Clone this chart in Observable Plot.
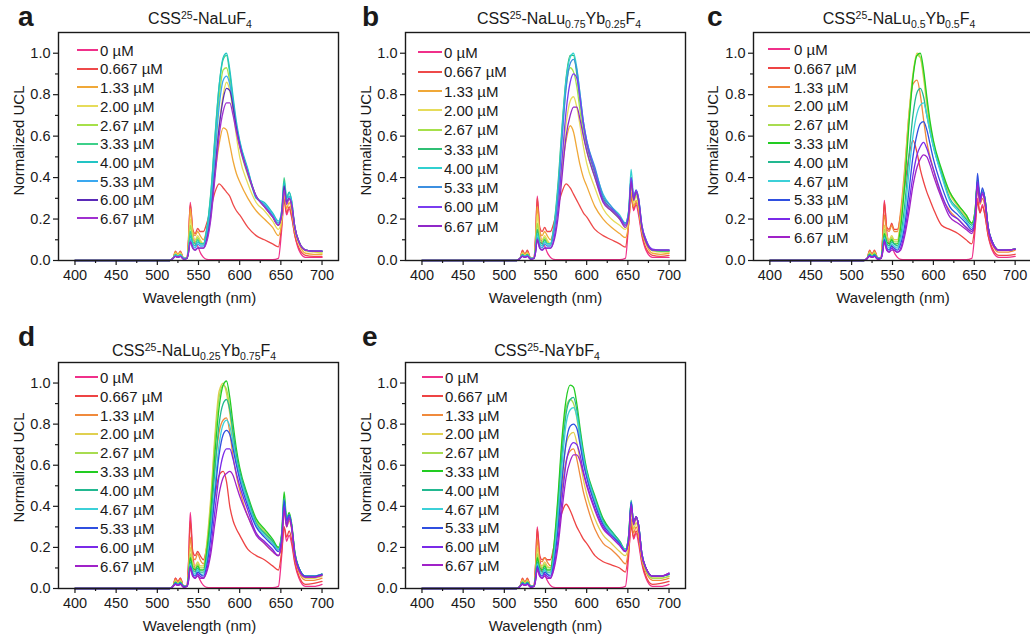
<!DOCTYPE html>
<html><head><meta charset="utf-8">
<script src="https://cdn.jsdelivr.net/npm/d3@7"></script>
<script src="https://cdn.jsdelivr.net/npm/@observablehq/plot@0.6"></script>
<style>
html,body{margin:0;padding:0;background:#fff;overflow:hidden;}
#root{position:relative;width:1030px;height:639px;overflow:hidden;font-family:"Liberation Sans",Arial,sans-serif;color:#1a1a1a;}
#root sup{font-size:10.5px;vertical-align:5px;line-height:0;}
#root sub{font-size:10.5px;vertical-align:-4px;line-height:0;}
</style></head><body><div id="root"></div>
<script>
// ---------------- data ----------------
const wavelengths = [400,515,519,522,525,528,532,536,538,540,543,546,549,552,556,560,565,570,575,580,584,588,592,596,600,610,620,630,640,647,651,654,657,660,663,667,672,680,690,700];

const concAB = ["0 µM","0.667 µM","1.33 µM","2.00 µM","2.67 µM","3.33 µM","4.00 µM","5.33 µM","6.00 µM","6.67 µM"];
const concCDE = ["0 µM","0.667 µM","1.33 µM","2.00 µM","2.67 µM","3.33 µM","4.00 µM","4.67 µM","5.33 µM","6.00 µM","6.67 µM"];

const colorsA = ["#f0308a","#ee4a4a","#f0a838","#e6dc5a","#a6e04a","#3ed08a","#22c4c4","#3aa8f0","#5a2ab8","#a030d0"];
const colorsB = ["#f0308a","#ee4a4a","#f0a838","#e6dc5a","#a6e04a","#2fbf74","#30d0d0","#3c8fe0","#7a3cf0","#9028c8"];
const colorsCDE = ["#f0308a","#ee4444","#f08a3c","#e0d050","#a8dc50","#22cc22","#22b890","#3cd0d8","#2f4fe0","#7a2ae8","#a022c8"];

const xMajor = [400,450,500,550,600,650,700];
const xMinor = [425,475,525,575,625,675];
const yMajor = [0,0.2,0.4,0.6,0.8,1.0];
const yMinor = [0.1,0.3,0.5,0.7,0.9];

const uclA = [
 [0,0,0.01,0.04,0.025,0.04,0.01,0.01, 0.1,0.28,0.14,0.08,0.07,0.04, 0.015,0.005,0.004,0.004,0.004,0.004,0.004,0.004,0.004,0.004,0.004,0.004,0.004,0.004,0.004,0.01, 0.15,0.29,0.22,0.25,0.21,0.12,0.05,0.015,0.015,0.015],
 [0,0,0.01,0.045,0.03,0.045,0.01,0.01, 0.12,0.27,0.15,0.13,0.155,0.14, 0.14,0.18,0.25,0.33,0.37,0.35,0.33,0.31,0.27,0.24,0.22,0.16,0.12,0.1,0.08,0.066, 0.17,0.3,0.23,0.26,0.22,0.12,0.06,0.025,0.02,0.02],
 [0,0,0.01,0.04,0.03,0.04,0.01,0.01, 0.1,0.25,0.14,0.12,0.14,0.12, 0.1,0.15,0.27,0.42,0.56,0.64,0.63,0.56,0.48,0.42,0.38,0.3,0.24,0.2,0.16,0.12, 0.18,0.32,0.25,0.28,0.24,0.14,0.08,0.035,0.03,0.03],
 [0,0,0.01,0.035,0.025,0.035,0.01,0.01, 0.08,0.2,0.12,0.1,0.12,0.1, 0.08,0.12,0.25,0.45,0.65,0.8,0.86,0.82,0.72,0.6,0.5,0.37,0.28,0.24,0.19,0.15, 0.2,0.34,0.27,0.3,0.26,0.15,0.09,0.045,0.04,0.035],
 [0,0,0.01,0.03,0.02,0.03,0.01,0.01, 0.07,0.17,0.1,0.09,0.11,0.09, 0.08,0.14,0.3,0.55,0.78,0.92,0.93,0.86,0.74,0.63,0.55,0.41,0.31,0.26,0.21,0.17, 0.22,0.36,0.28,0.31,0.27,0.15,0.09,0.05,0.045,0.04],
 [0,0,0.01,0.03,0.02,0.03,0.01,0.01, 0.06,0.14,0.09,0.08,0.1,0.08, 0.08,0.15,0.33,0.6,0.84,0.97,0.99,0.9,0.77,0.65,0.57,0.43,0.31,0.27,0.22,0.18, 0.24,0.4,0.3,0.33,0.29,0.16,0.09,0.05,0.045,0.045],
 [0,0,0.01,0.025,0.02,0.025,0.01,0.01, 0.05,0.12,0.08,0.07,0.09,0.08, 0.08,0.15,0.32,0.59,0.84,0.98,1.0,0.92,0.79,0.67,0.58,0.44,0.3,0.28,0.23,0.19, 0.24,0.38,0.3,0.33,0.29,0.16,0.09,0.05,0.045,0.045],
 [0,0,0.01,0.025,0.015,0.025,0.01,0.01, 0.05,0.1,0.07,0.06,0.08,0.07, 0.07,0.12,0.26,0.5,0.74,0.87,0.89,0.85,0.75,0.65,0.57,0.43,0.31,0.27,0.22,0.18, 0.23,0.36,0.28,0.31,0.28,0.16,0.09,0.05,0.045,0.045],
 [0,0,0.01,0.02,0.015,0.02,0.005,0.01, 0.04,0.09,0.06,0.05,0.06,0.06, 0.06,0.1,0.22,0.43,0.64,0.78,0.83,0.82,0.74,0.64,0.56,0.42,0.31,0.26,0.21,0.17, 0.22,0.36,0.28,0.3,0.27,0.16,0.09,0.05,0.045,0.045],
 [0,0,0.01,0.02,0.015,0.02,0.005,0.01, 0.04,0.09,0.06,0.05,0.06,0.06, 0.06,0.09,0.2,0.4,0.6,0.72,0.76,0.76,0.7,0.62,0.55,0.42,0.31,0.26,0.21,0.17, 0.22,0.34,0.27,0.3,0.27,0.16,0.09,0.05,0.045,0.045]
];

const uclB = [
 [0,0,0.01,0.045,0.03,0.045,0.01,0.01, 0.12,0.31,0.15,0.08,0.07,0.04, 0.015,0.005,0.004,0.004,0.004,0.004,0.004,0.004,0.004,0.004,0.004,0.004,0.004,0.004,0.004,0.01, 0.18,0.32,0.24,0.27,0.22,0.12,0.05,0.015,0.015,0.015],
 [0,0,0.01,0.05,0.03,0.05,0.01,0.01, 0.12,0.3,0.16,0.14,0.16,0.14, 0.14,0.18,0.26,0.33,0.37,0.35,0.32,0.29,0.26,0.23,0.21,0.15,0.12,0.1,0.08,0.065, 0.18,0.3,0.25,0.28,0.24,0.13,0.06,0.025,0.02,0.025],
 [0,0,0.01,0.04,0.03,0.04,0.01,0.01, 0.1,0.26,0.14,0.12,0.14,0.12, 0.1,0.15,0.28,0.44,0.58,0.65,0.62,0.54,0.46,0.4,0.36,0.26,0.2,0.16,0.13,0.11, 0.18,0.33,0.26,0.29,0.25,0.14,0.08,0.035,0.03,0.035],
 [0,0,0.01,0.035,0.025,0.035,0.01,0.01, 0.08,0.22,0.12,0.1,0.12,0.1, 0.08,0.13,0.27,0.47,0.66,0.77,0.79,0.74,0.65,0.55,0.47,0.35,0.25,0.2,0.17,0.15, 0.2,0.36,0.28,0.31,0.27,0.15,0.09,0.045,0.04,0.04],
 [0,0,0.01,0.03,0.02,0.03,0.01,0.01, 0.07,0.18,0.1,0.09,0.11,0.09, 0.08,0.15,0.33,0.6,0.84,0.93,0.91,0.84,0.72,0.61,0.53,0.4,0.29,0.24,0.2,0.17, 0.22,0.38,0.29,0.32,0.28,0.16,0.09,0.05,0.045,0.045],
 [0,0,0.01,0.03,0.02,0.03,0.01,0.01, 0.06,0.15,0.09,0.08,0.1,0.08, 0.08,0.16,0.36,0.64,0.88,0.99,0.99,0.9,0.77,0.65,0.56,0.42,0.3,0.25,0.21,0.18, 0.24,0.4,0.3,0.33,0.29,0.16,0.09,0.05,0.045,0.045],
 [0,0,0.01,0.025,0.02,0.025,0.01,0.01, 0.05,0.13,0.08,0.07,0.09,0.08, 0.08,0.15,0.34,0.62,0.87,0.98,1.0,0.93,0.8,0.67,0.58,0.44,0.32,0.26,0.22,0.18, 0.24,0.44,0.31,0.34,0.3,0.17,0.1,0.05,0.05,0.05],
 [0,0,0.01,0.025,0.015,0.025,0.01,0.01, 0.05,0.11,0.07,0.06,0.08,0.07, 0.07,0.13,0.3,0.58,0.83,0.95,0.97,0.92,0.8,0.67,0.58,0.45,0.31,0.26,0.21,0.18, 0.23,0.4,0.3,0.34,0.3,0.17,0.1,0.05,0.05,0.05],
 [0,0,0.01,0.02,0.015,0.02,0.005,0.01, 0.04,0.1,0.06,0.05,0.06,0.06, 0.06,0.1,0.24,0.48,0.72,0.86,0.9,0.88,0.78,0.66,0.57,0.43,0.29,0.25,0.21,0.17, 0.22,0.4,0.3,0.34,0.3,0.17,0.1,0.055,0.05,0.05],
 [0,0,0.01,0.02,0.015,0.02,0.005,0.01, 0.04,0.1,0.06,0.05,0.06,0.06, 0.06,0.09,0.2,0.4,0.6,0.7,0.74,0.74,0.68,0.6,0.53,0.4,0.28,0.24,0.2,0.16, 0.21,0.38,0.29,0.33,0.29,0.16,0.09,0.05,0.05,0.05]
];

const uclC = [
 [0,0,0.01,0.045,0.03,0.045,0.01,0.01, 0.11,0.29,0.14,0.08,0.07,0.04, 0.015,0.005,0.004,0.004,0.004,0.004,0.004,0.004,0.004,0.004,0.004,0.004,0.004,0.004,0.004,0.01, 0.15,0.3,0.23,0.27,0.22,0.12,0.05,0.015,0.015,0.02],
 [0,0,0.01,0.05,0.03,0.05,0.01,0.01, 0.12,0.28,0.16,0.15,0.18,0.15, 0.15,0.22,0.36,0.5,0.58,0.52,0.44,0.38,0.33,0.29,0.25,0.17,0.15,0.13,0.1,0.08, 0.17,0.28,0.23,0.26,0.22,0.12,0.06,0.025,0.025,0.03],
 [0,0,0.01,0.045,0.03,0.045,0.01,0.01, 0.1,0.22,0.15,0.14,0.17,0.14, 0.14,0.24,0.45,0.7,0.85,0.87,0.8,0.68,0.57,0.5,0.44,0.31,0.24,0.2,0.16,0.14, 0.2,0.34,0.27,0.3,0.26,0.14,0.08,0.04,0.04,0.05],
 [0,0,0.01,0.04,0.025,0.04,0.01,0.01, 0.08,0.17,0.12,0.1,0.12,0.1, 0.1,0.2,0.42,0.7,0.9,1.0,0.98,0.88,0.75,0.64,0.56,0.42,0.32,0.26,0.21,0.18, 0.24,0.38,0.3,0.33,0.29,0.16,0.09,0.05,0.05,0.055],
 [0,0,0.01,0.035,0.02,0.035,0.01,0.01, 0.07,0.15,0.1,0.09,0.11,0.09, 0.09,0.18,0.4,0.68,0.89,0.99,0.98,0.9,0.77,0.65,0.57,0.43,0.33,0.27,0.22,0.18, 0.24,0.38,0.3,0.34,0.3,0.16,0.09,0.05,0.05,0.055],
 [0,0,0.01,0.03,0.02,0.03,0.01,0.01, 0.06,0.13,0.09,0.08,0.1,0.08, 0.08,0.16,0.37,0.65,0.88,0.99,1.0,0.92,0.79,0.67,0.58,0.44,0.33,0.27,0.22,0.18, 0.24,0.39,0.3,0.34,0.3,0.16,0.09,0.05,0.05,0.055],
 [0,0,0.01,0.03,0.02,0.03,0.01,0.01, 0.06,0.12,0.08,0.07,0.09,0.08, 0.07,0.12,0.27,0.5,0.7,0.81,0.83,0.79,0.7,0.62,0.55,0.42,0.3,0.25,0.2,0.17, 0.23,0.38,0.3,0.34,0.3,0.16,0.09,0.05,0.05,0.055],
 [0,0,0.01,0.025,0.02,0.025,0.01,0.01, 0.05,0.11,0.07,0.06,0.08,0.07, 0.06,0.1,0.22,0.42,0.6,0.71,0.75,0.76,0.7,0.62,0.55,0.41,0.29,0.24,0.19,0.16, 0.22,0.38,0.3,0.34,0.3,0.16,0.09,0.05,0.05,0.055],
 [0,0,0.01,0.025,0.015,0.025,0.01,0.01, 0.05,0.1,0.06,0.05,0.07,0.06, 0.05,0.08,0.17,0.33,0.5,0.61,0.66,0.67,0.63,0.56,0.49,0.36,0.26,0.22,0.18,0.15, 0.21,0.42,0.3,0.35,0.3,0.16,0.09,0.05,0.05,0.055],
 [0,0,0.01,0.02,0.015,0.02,0.005,0.01, 0.04,0.09,0.05,0.04,0.06,0.05, 0.04,0.06,0.14,0.27,0.41,0.51,0.55,0.57,0.54,0.49,0.44,0.32,0.23,0.2,0.16,0.14, 0.2,0.38,0.29,0.33,0.29,0.16,0.09,0.05,0.05,0.055],
 [0,0,0.01,0.02,0.015,0.02,0.005,0.01, 0.04,0.09,0.05,0.04,0.05,0.05, 0.04,0.05,0.12,0.23,0.36,0.45,0.49,0.51,0.5,0.46,0.41,0.3,0.21,0.18,0.15,0.13, 0.19,0.36,0.28,0.32,0.28,0.15,0.08,0.05,0.05,0.055]
];

const uclD = [
 [0,0,0.01,0.05,0.035,0.05,0.01,0.01, 0.14,0.37,0.17,0.09,0.07,0.04, 0.015,0.005,0.004,0.004,0.004,0.004,0.004,0.004,0.004,0.004,0.004,0.004,0.004,0.004,0.004,0.01, 0.16,0.3,0.23,0.26,0.22,0.12,0.05,0.01,0.01,0.02],
 [0,0,0.01,0.05,0.03,0.05,0.01,0.01, 0.13,0.33,0.18,0.16,0.18,0.16, 0.14,0.2,0.32,0.45,0.55,0.57,0.52,0.4,0.33,0.29,0.26,0.19,0.16,0.14,0.11,0.09, 0.18,0.3,0.25,0.28,0.24,0.13,0.06,0.02,0.025,0.035],
 [0,0,0.01,0.045,0.03,0.045,0.01,0.01, 0.1,0.25,0.15,0.14,0.17,0.14, 0.12,0.2,0.38,0.6,0.76,0.82,0.83,0.76,0.64,0.55,0.48,0.35,0.27,0.22,0.18,0.16, 0.22,0.38,0.3,0.33,0.29,0.15,0.08,0.04,0.04,0.05],
 [0,0,0.01,0.04,0.025,0.04,0.01,0.01, 0.08,0.2,0.13,0.11,0.13,0.11, 0.11,0.22,0.45,0.75,0.96,1.0,0.95,0.85,0.72,0.62,0.55,0.42,0.32,0.27,0.22,0.19, 0.25,0.4,0.31,0.35,0.3,0.16,0.09,0.05,0.05,0.06],
 [0,0,0.01,0.035,0.02,0.035,0.01,0.01, 0.07,0.17,0.11,0.1,0.12,0.1, 0.1,0.2,0.42,0.72,0.93,0.99,0.97,0.88,0.75,0.64,0.56,0.43,0.33,0.28,0.23,0.2, 0.26,0.42,0.32,0.36,0.31,0.17,0.1,0.055,0.055,0.065],
 [0,0,0.01,0.03,0.02,0.03,0.01,0.01, 0.06,0.15,0.1,0.09,0.11,0.09, 0.09,0.18,0.38,0.66,0.88,0.99,1.01,0.93,0.8,0.68,0.59,0.45,0.34,0.29,0.24,0.2, 0.27,0.47,0.34,0.37,0.32,0.18,0.1,0.06,0.06,0.07],
 [0,0,0.01,0.03,0.02,0.03,0.01,0.01, 0.06,0.13,0.09,0.08,0.1,0.08, 0.08,0.15,0.33,0.58,0.8,0.9,0.92,0.87,0.76,0.65,0.57,0.44,0.32,0.27,0.23,0.19, 0.26,0.44,0.33,0.36,0.31,0.17,0.1,0.06,0.06,0.07],
 [0,0,0.01,0.025,0.02,0.025,0.01,0.01, 0.05,0.12,0.08,0.07,0.09,0.07, 0.07,0.13,0.28,0.5,0.7,0.8,0.82,0.79,0.71,0.62,0.55,0.42,0.31,0.26,0.22,0.19, 0.25,0.43,0.33,0.36,0.31,0.17,0.1,0.06,0.06,0.07],
 [0,0,0.01,0.025,0.015,0.025,0.01,0.01, 0.05,0.11,0.07,0.06,0.08,0.07, 0.06,0.11,0.25,0.46,0.65,0.75,0.77,0.75,0.68,0.6,0.53,0.4,0.3,0.25,0.21,0.18, 0.24,0.43,0.33,0.36,0.31,0.17,0.1,0.06,0.06,0.07],
 [0,0,0.01,0.02,0.015,0.02,0.005,0.01, 0.04,0.1,0.06,0.05,0.07,0.06, 0.05,0.09,0.2,0.38,0.55,0.65,0.68,0.68,0.63,0.56,0.5,0.38,0.27,0.23,0.19,0.16, 0.23,0.4,0.31,0.35,0.3,0.16,0.09,0.055,0.055,0.065],
 [0,0,0.01,0.02,0.015,0.02,0.005,0.01, 0.04,0.1,0.06,0.05,0.06,0.05, 0.05,0.08,0.17,0.32,0.46,0.54,0.56,0.57,0.55,0.5,0.45,0.35,0.26,0.22,0.18,0.16, 0.22,0.38,0.3,0.34,0.3,0.16,0.09,0.055,0.055,0.065]
];

const uclE = [
 [0,0,0.01,0.045,0.03,0.045,0.01,0.01, 0.12,0.3,0.15,0.08,0.07,0.04, 0.015,0.005,0.004,0.004,0.004,0.004,0.004,0.004,0.004,0.004,0.004,0.004,0.004,0.004,0.004,0.01, 0.16,0.32,0.24,0.27,0.22,0.12,0.05,0.01,0.01,0.02],
 [0,0,0.01,0.05,0.03,0.05,0.01,0.01, 0.12,0.29,0.16,0.14,0.15,0.14, 0.14,0.2,0.3,0.37,0.41,0.38,0.34,0.3,0.27,0.24,0.22,0.16,0.13,0.115,0.1,0.08, 0.18,0.3,0.25,0.28,0.24,0.13,0.06,0.02,0.025,0.035],
 [0,0,0.01,0.045,0.03,0.045,0.01,0.01, 0.1,0.24,0.14,0.13,0.15,0.13, 0.11,0.16,0.3,0.48,0.62,0.67,0.68,0.63,0.55,0.47,0.41,0.29,0.22,0.19,0.15,0.12, 0.2,0.34,0.27,0.3,0.26,0.14,0.08,0.04,0.04,0.05],
 [0,0,0.01,0.04,0.025,0.04,0.01,0.01, 0.08,0.2,0.12,0.11,0.13,0.11, 0.1,0.16,0.33,0.55,0.7,0.75,0.76,0.71,0.62,0.53,0.46,0.34,0.26,0.22,0.18,0.16, 0.22,0.37,0.29,0.32,0.28,0.15,0.09,0.05,0.05,0.06],
 [0,0,0.01,0.035,0.02,0.035,0.01,0.01, 0.07,0.17,0.11,0.1,0.12,0.1, 0.1,0.2,0.42,0.7,0.88,0.92,0.9,0.83,0.72,0.62,0.55,0.42,0.32,0.27,0.22,0.19, 0.25,0.4,0.31,0.34,0.3,0.16,0.09,0.05,0.05,0.06],
 [0,0,0.01,0.03,0.02,0.03,0.01,0.01, 0.06,0.15,0.1,0.09,0.11,0.09, 0.09,0.2,0.44,0.73,0.92,0.99,0.98,0.9,0.78,0.67,0.58,0.45,0.34,0.28,0.23,0.19, 0.26,0.42,0.32,0.35,0.31,0.17,0.1,0.06,0.06,0.07],
 [0,0,0.01,0.03,0.02,0.03,0.01,0.01, 0.06,0.13,0.09,0.08,0.1,0.08, 0.08,0.17,0.38,0.65,0.85,0.92,0.93,0.87,0.76,0.65,0.57,0.44,0.33,0.28,0.23,0.19, 0.26,0.43,0.32,0.35,0.31,0.17,0.1,0.06,0.06,0.07],
 [0,0,0.01,0.025,0.02,0.025,0.01,0.01, 0.05,0.12,0.08,0.07,0.09,0.07, 0.07,0.15,0.34,0.6,0.8,0.87,0.88,0.84,0.74,0.64,0.56,0.43,0.32,0.27,0.22,0.19, 0.25,0.42,0.32,0.35,0.31,0.17,0.1,0.06,0.06,0.07],
 [0,0,0.01,0.025,0.015,0.025,0.01,0.01, 0.05,0.11,0.07,0.06,0.08,0.07, 0.06,0.12,0.28,0.52,0.71,0.79,0.8,0.78,0.7,0.61,0.54,0.41,0.31,0.26,0.22,0.18, 0.24,0.42,0.32,0.35,0.31,0.17,0.1,0.06,0.06,0.07],
 [0,0,0.01,0.02,0.015,0.02,0.005,0.01, 0.04,0.1,0.06,0.05,0.07,0.06, 0.05,0.1,0.23,0.43,0.61,0.69,0.71,0.7,0.65,0.57,0.51,0.39,0.3,0.25,0.21,0.18, 0.24,0.41,0.32,0.35,0.31,0.17,0.1,0.06,0.06,0.075],
 [0,0,0.01,0.02,0.015,0.02,0.005,0.01, 0.04,0.09,0.06,0.05,0.06,0.05, 0.05,0.09,0.2,0.38,0.54,0.62,0.65,0.65,0.62,0.56,0.5,0.38,0.29,0.25,0.21,0.18, 0.23,0.4,0.31,0.35,0.3,0.16,0.1,0.06,0.06,0.075]
];

// ---------------- layout ----------------
const panels = [
 {letter:"a", lx:18, lbase:27, title:"CSS<sup>25</sup>-NaLuF<sub>4</sub>", tx:200, tbase:25,
  frame:[58,338,32,260], series:uclA, labels:concAB, colors:colorsA,
  leg:{x0:77,x1:98,tx:100,y0:50,dy:18.7}, ylab:[18.3,140], xlab:[199.5,303]},
 {letter:"b", lx:362, lbase:27, title:"CSS<sup>25</sup>-NaLu<sub>0.75</sub>Yb<sub>0.25</sub>F<sub>4</sub>", tx:559, tbase:25,
  frame:[405,685,32,260], series:uclB, labels:concAB, colors:colorsB,
  leg:{x0:418,x1:442,tx:444,y0:52.3,dy:19.3}, ylab:[364.5,140], xlab:[545.5,303]},
 {letter:"c", lx:707, lbase:27, title:"CSS<sup>25</sup>-NaLu<sub>0.5</sub>Yb<sub>0.5</sub>F<sub>4</sub>", tx:899, tbase:25,
  frame:[753,1031,32,260], series:uclC, labels:concCDE, colors:colorsCDE,
  leg:{x0:768,x1:790,tx:794,y0:49.3,dy:18.8}, ylab:[711.5,140], xlab:[893,303]},
 {letter:"d", lx:18, lbase:347, title:"CSS<sup>25</sup>-NaLu<sub>0.25</sub>Yb<sub>0.75</sub>F<sub>4</sub>", tx:194, tbase:357,
  frame:[58,338,362,588], series:uclD, labels:concCDE, colors:colorsCDE,
  leg:{x0:75,x1:98,tx:100,y0:377,dy:18.9}, ylab:[18,467], xlab:[199.5,631]},
 {letter:"e", lx:362, lbase:347, title:"CSS<sup>25</sup>-NaYbF<sub>4</sub>", tx:547, tbase:357,
  frame:[405,685,362,588], series:uclE, labels:concCDE, colors:colorsCDE,
  leg:{x0:422,x1:443,tx:445,y0:377.3,dy:18.8}, ylab:[365,467], xlab:[545.5,631]}
];

const root = document.getElementById("root");
function addDiv(html, css){
  const d = document.createElement("div");
  d.innerHTML = html;
  d.style.cssText = "position:absolute;white-space:nowrap;" + css;
  root.appendChild(d);
  return d;
}
function toRows(series, labels){
  const rows = [];
  series.forEach((vals,i) => {
    if (vals.length !== wavelengths.length) throw new Error("length mismatch " + labels[i] + " " + vals.length);
    vals.forEach((v,j) => rows.push({w: wavelengths[j], v, s: labels[i]}));
  });
  return rows;
}

const ml = 50, mr = 12, mt = 10, mb = 28;
const FONT = '"Liberation Sans", Arial, sans-serif';

for (const p of panels){
  const [x0,x1,y0,y1] = p.frame;
  const rows = toRows(p.series, p.labels);
  const svg = Plot.plot({
    width: x1-x0+ml+mr, height: y1-y0+mt+mb,
    marginLeft: ml, marginRight: mr, marginTop: mt, marginBottom: mb,
    style: {fontFamily: FONT, fontSize: "14.5px", color: "#1a1a1a", background: "transparent", overflow: "visible"},
    x: {domain: [380,720]},
    y: {domain: [0,1.1]},
    color: {domain: p.labels, range: p.colors},
    marks: [
      Plot.line(rows, {x: "w", y: "v", z: "s", stroke: "s", strokeWidth: 1.3, curve: "monotone-x"}),
      Plot.frame({stroke: "#1a1a1a", strokeWidth: 1.4}),
      Plot.axisX({ticks: xMajor, tickSize: 5, tickPadding: 4, strokeWidth: 1.2, tickFormat: d => String(d), label: null}),
      Plot.axisX({ticks: xMinor, tickSize: 3, strokeWidth: 1.2, tickFormat: () => "", label: null}),
      Plot.axisY({ticks: yMajor, tickSize: 5, tickPadding: 3, strokeWidth: 1.2, tickFormat: d => d.toFixed(1), label: null}),
      Plot.axisY({ticks: yMinor, tickSize: 3, strokeWidth: 1.2, tickFormat: () => "", label: null})
    ]
  });
  svg.style.position = "absolute";
  svg.style.left = (x0-ml) + "px";
  svg.style.top = (y0-mt) + "px";
  root.appendChild(svg);

  // panel letter
  addDiv(p.letter, `left:${p.lx}px;top:${p.lbase - 0.8465*28}px;font-size:28px;line-height:28px;font-weight:bold;`);
  // title
  addDiv(p.title, `left:${p.tx}px;top:${p.tbase - 0.8465*16}px;font-size:16px;line-height:16px;transform:translateX(-50%);`);
  // axis labels
  addDiv("Wavelength (nm)", `left:${p.xlab[0]}px;top:${p.xlab[1] - 0.8465*15}px;font-size:15px;line-height:15px;transform:translateX(-50%);`);
  addDiv("Normalized UCL", `left:${p.ylab[0]-100}px;top:${p.ylab[1]-7.5}px;width:200px;text-align:center;font-size:15px;line-height:15px;transform:rotate(-90deg);`);
  // legend
  p.labels.forEach((lab,i) => {
    const y = p.leg.y0 + i*p.leg.dy;
    addDiv("", `left:${p.leg.x0}px;top:${y-1}px;width:${p.leg.x1-p.leg.x0}px;height:2px;background:${p.colors[i]};`);
    addDiv(lab, `left:${p.leg.tx}px;top:${y + 5.4 - 0.8465*15}px;font-size:15px;line-height:15px;`);
  });
}
</script>
</body></html>
